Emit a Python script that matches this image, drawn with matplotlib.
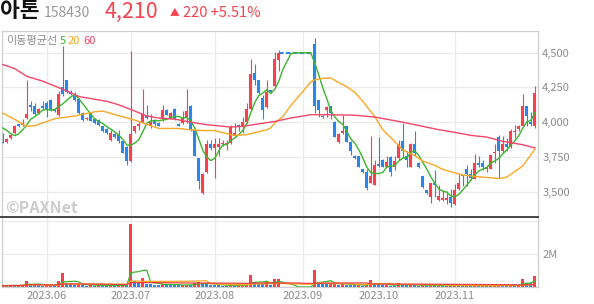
import numpy as np
import pandas as pd
import matplotlib
matplotlib.use('Agg')
from matplotlib import pyplot as plt

plt.rcParams['font.family'] = ['Noto Sans CJK KR', 'DejaVu Sans']

UP = '#f5424e'
DOWN = '#2a86e8'
MA5_C = '#3cb52f'
MA20_C = '#f9a825'
MA60_C = '#f2466a'
GRID = '#ebebeb'
FRAME = '#cfcfcf'
TXT = '#8c8c8c'

# daily candles, 2023-05-16 .. 2023-11-29 (trading days), days 70-77 trading halted
opens = [3860, 3855, 3885, 3920, 3985, 3980, 4030, 4125, 4120, 4065,
         4120, 4140, 4160, 4095, 4050, 4255, 4300, 4220, 4185, 4165,
         4065, 4020, 4065, 4025, 4015, 3970, 3950, 3875, 3915, 3905,
         3865, 3825, 3720, 3935, 3970, 4000, 4045, 3970, 4015, 3995,
         4020, 4090, 4030, 4095, 3990, 3995, 4030, 4120, 3945, 3740,
         3490, 3640, 3845, 3815, 3820, 3840, 3840, 3850, 3910, 3980,
         3965, 4000, 4095, 4355, 4300, 4175, 4110, 4230, 4260, 4445,
         4500, 4500, 4500, 4500, 4500, 4500, 4500, 4500,
         4560, 4160, 4045, 4090, 4115, 4000, 3855, 3920, 3970, 3860,
         3760, 3755, 3660, 3640, 3565, 3550, 3700, 3730, 3675, 3750,
         3680, 3740, 3865, 3760, 3680, 3840, 3710, 3610, 3510, 3465,
         3560, 3440, 3440, 3440, 3465, 3415, 3520, 3620, 3660, 3630,
         3590, 3705, 3705, 3660, 3660, 3775, 3895, 3790, 3840, 3825,
         3930, 3950, 3975, 4120, 4000, 3970]
highs = [3920, 3885, 3915, 3980, 3990, 4020, 4300, 4150, 4135, 4105,
         4150, 4150, 4170, 4100, 4225, 4550, 4305, 4230, 4215, 4175,
         4070, 4035, 4065, 4030, 4020, 3975, 3960, 3945, 3920, 3945,
         3870, 3830, 4510, 3975, 4010, 4240, 4125, 4060, 4020, 4000,
         4125, 4095, 4070, 4100, 3995, 4080, 4240, 4125, 3950, 3745,
         3635, 3875, 3875, 3885, 3885, 3875, 3875, 3980, 3995, 3985,
         4040, 4135, 4455, 4420, 4305, 4195, 4305, 4235, 4505, 4520,
         4500, 4500, 4500, 4500, 4500, 4500, 4500, 4500,
         4605, 4160, 4050, 4120, 4120, 4005, 3920, 4055, 3975, 3865,
         3765, 3760, 3665, 3660, 3900, 3730, 3895, 3735, 3755, 3755,
         3755, 3875, 3995, 3790, 3850, 3935, 3715, 3615, 3515, 3560,
         3655, 3550, 3510, 3505, 3520, 3555, 3630, 3620, 3695, 3660,
         3770, 3755, 3730, 3695, 3765, 3840, 3905, 3900, 3885, 3950,
         3980, 3980, 4205, 4120, 4075, 4260]
lows = [3850, 3850, 3880, 3915, 3965, 3970, 4025, 4080, 4055, 4060,
        4090, 4035, 4080, 4075, 4045, 4190, 4210, 4195, 4150, 4060,
        4005, 4015, 4005, 3990, 3975, 3930, 3915, 3865, 3885, 3850,
        3775, 3690, 3715, 3925, 3945, 3995, 4020, 3955, 3975, 3970,
        4010, 4050, 4025, 4015, 3970, 3985, 3995, 3940, 3755, 3520,
        3485, 3635, 3800, 3600, 3755, 3830, 3800, 3840, 3900, 3935,
        3920, 3995, 4085, 4270, 4205, 4020, 4100, 4210, 4245, 4365,
        4500, 4500, 4500, 4500, 4500, 4500, 4500, 4500,
        4065, 4040, 4030, 4035, 4020, 3890, 3850, 3915, 3855, 3765,
        3735, 3675, 3635, 3510, 3560, 3550, 3680, 3675, 3675, 3615,
        3655, 3730, 3740, 3680, 3680, 3755, 3670, 3530, 3485, 3420,
        3465, 3435, 3430, 3415, 3390, 3405, 3515, 3540, 3540, 3585,
        3590, 3680, 3655, 3645, 3660, 3705, 3600, 3785, 3790, 3815,
        3885, 3935, 3970, 3975, 3970, 3960]
closes = [3850, 3880, 3910, 3975, 3970, 3995, 4060, 4110, 4060, 4095,
          4105, 4090, 4085, 4080, 4205, 4200, 4220, 4205, 4160, 4065,
          4015, 4030, 4010, 3995, 3980, 3935, 3920, 3920, 3895, 3865,
          3780, 3720, 3915, 3970, 3985, 4060, 4030, 4000, 3985, 3975,
          4090, 4055, 4065, 4020, 3975, 4030, 4080, 3945, 3760, 3575,
          3630, 3840, 3815, 3840, 3840, 3850, 3850, 3965, 3925, 3965,
          4000, 4095, 4350, 4305, 4210, 4085, 4220, 4215, 4455, 4500,
          4500, 4500, 4500, 4500, 4500, 4500, 4500, 4500,
          4115, 4085, 4035, 4110, 4065, 3895, 3915, 3935, 3860, 3795,
          3740, 3680, 3640, 3525, 3610, 3695, 3685, 3680, 3715, 3645,
          3720, 3840, 3790, 3725, 3840, 3775, 3675, 3535, 3490, 3560,
          3545, 3470, 3455, 3455, 3420, 3515, 3560, 3610, 3630, 3600,
          3710, 3695, 3680, 3680, 3765, 3785, 3790, 3840, 3825, 3935,
          3940, 3970, 4120, 4045, 3990, 4210]
volumes = [90e3, 70e3, 110e3, 80e3, 100e3, 140e3, 360e3, 150e3, 120e3, 100e3,
           90e3, 110e3, 120e3, 80e3, 360e3, 830e3, 250e3, 180e3, 140e3, 160e3,
           120e3, 90e3, 110e3, 80e3, 100e3, 90e3, 80e3, 120e3, 90e3, 100e3,
           150e3, 130e3, 3820e3, 340e3, 220e3, 520e3, 180e3, 160e3, 140e3, 120e3,
           200e3, 150e3, 130e3, 110e3, 100e3, 120e3, 150e3, 140e3, 220e3, 320e3,
           200e3, 180e3, 140e3, 130e3, 100e3, 90e3, 80e3, 110e3, 90e3, 100e3,
           120e3, 150e3, 710e3, 300e3, 200e3, 170e3, 360e3, 150e3, 480e3, 480e3,
           0, 0, 0, 0, 0, 0, 0, 0,
           1010e3, 320e3, 180e3, 170e3, 260e3, 270e3, 150e3, 170e3, 140e3, 130e3,
           110e3, 120e3, 90e3, 100e3, 420e3, 180e3, 170e3, 100e3, 110e3, 90e3,
           80e3, 240e3, 150e3, 100e3, 120e3, 110e3, 90e3, 100e3, 80e3, 90e3,
           70e3, 80e3, 60e3, 70e3, 80e3, 90e3, 100e3, 80e3, 90e3, 70e3,
           100e3, 80e3, 90e3, 70e3, 90e3, 100e3, 120e3, 100e3, 90e3, 180e3,
           110e3, 130e3, 480e3, 260e3, 240e3, 650e3]
pre_closes = [3965, 4030, 4045, 3900]

# 20 and 60 day averages
ma20_idx = [0, 3, 6, 8, 10, 13, 18, 23, 25, 28, 33, 36, 39, 44, 47, 50, 53, 57, 58, 61,
            63, 66, 67, 68, 70, 72, 75, 77, 78, 80, 82, 84, 86, 88, 90, 93, 95, 98, 100,
            103, 105, 108, 110, 113, 115, 118, 120, 123, 124, 126, 128, 130, 131, 133]
ma20_val = [4065, 4020, 3970, 3975, 3995, 4025, 4045, 4075, 4080, 4055, 4015, 3985, 3955,
            3955, 3945, 3940, 3940, 3910, 3905, 3910, 3925, 3945, 3960, 3995, 4040, 4120,
            4220, 4290, 4305, 4315, 4318, 4285, 4255, 4215, 4150, 4040, 3945, 3860, 3800,
            3760, 3720, 3690, 3660, 3635, 3620, 3610, 3605, 3598, 3594, 3605, 3645, 3685,
            3725, 3805]
ma60_idx = [0, 3, 6, 10, 13, 16, 19, 23, 26, 29, 33, 36, 39, 43, 47, 51, 57, 60, 64, 68,
            72, 77, 81, 85, 88, 93, 100, 105, 109, 113, 117, 121, 125, 130, 133]
ma60_val = [4415, 4385, 4330, 4295, 4260, 4225, 4185, 4165, 4150, 4125, 4080, 4045, 4030,
            4022, 4000, 3982, 3965, 3970, 3988, 4005, 4030, 4054, 4054, 4052, 4050, 4037,
            4000, 3970, 3946, 3927, 3905, 3893, 3862, 3838, 3815]

month_idx = [11, 32, 53, 75, 94, 113]
month_labels = ['2023.06', '2023.07', '2023.08', '2023.09', '2023.10', '2023.11']
price_ticks = [3500, 3750, 4000, 4250, 4500]

W, H = 594, 304
fig = plt.figure(figsize=(W / 100, H / 100), dpi=100)


def fx(px):
    return px / W


def fy(py):
    return 1 - py / H


ax = fig.add_axes([fx(2), fy(217), fx(536), fy(31) - fy(217)])
axv = fig.add_axes([fx(2), fy(287), fx(536), fy(217) - fy(287)], sharex=ax)

o = np.array(opens, float)
h = np.array(highs, float)
l = np.array(lows, float)
c = np.array(closes, float)
v = np.array(volumes, float)
idx = np.arange(len(c))
halted = v == 0

# candles
live = ~halted
up = (c >= o) & live
dn = (c < o) & live
for mask, col in ((up, UP), (dn, DOWN)):
    ax.vlines(idx[mask], l[mask], h[mask], color=col, lw=0.8, zorder=3)
    body = np.maximum(np.abs(c[mask] - o[mask]), 6)
    ax.bar(idx[mask], body, bottom=np.minimum(o[mask], c[mask]), width=0.72,
           color=col, lw=0, zorder=3)

# halt period shown as dashed line
hi = idx[halted]
ax.plot([hi[0] - 1, hi[-1]], [c[hi[0] - 1], c[hi[-1]]], color=DOWN, lw=1.5,
        ls=(0, (2.2, 1.1)), zorder=3)

ma5 = pd.Series(pre_closes + closes).rolling(5).mean().to_numpy()[len(pre_closes):]
ax.plot(idx, ma5, color=MA5_C, lw=1.0, zorder=4)
ax.plot(ma20_idx, ma20_val, color=MA20_C, lw=1.0, zorder=4)
ax.plot(ma60_idx, ma60_val, color=MA60_C, lw=1.0, zorder=4)

ax.set_xlim(-0.2, 133.8)
ax.set_ylim(3318, 4656)
ax.set_yticks(price_ticks)
ax.set_yticklabels([f'{t:,}' for t in price_ticks])
ax.yaxis.tick_right()
ax.set_xticks(month_idx)
ax.tick_params(axis='x', length=0, labelbottom=False)
ax.tick_params(axis='y', length=0, pad=3, labelsize=8, labelcolor=TXT)
ax.grid(True, color=GRID, lw=0.9, zorder=0)
ax.set_axisbelow(True)
for s in ('top', 'left', 'right'):
    ax.spines[s].set_color(FRAME)
    ax.spines[s].set_linewidth(0.9)
ax.spines['bottom'].set_visible(False)

# dark separator across the full width
fig.add_artist(plt.Line2D([0, fx(538)], [fy(217), fy(217)], color='#444444', lw=1.4))

# volume
prev = np.concatenate([[v[0]], v[:-1]])
vcol = np.where(v >= prev, UP, DOWN)
axv.bar(idx[live], v[live], width=0.72, color=vcol[live], lw=0, zorder=3)
vs = pd.Series(v)
axv.plot(idx, vs.rolling(5, min_periods=1).mean(), color=MA5_C, lw=0.9, zorder=4)
axv.plot(idx, vs.rolling(20, min_periods=1).mean(), color=MA20_C, lw=0.9, zorder=4)
axv.plot(idx, vs.rolling(60, min_periods=1).mean(), color='#ef3b3b', lw=0.9, zorder=4)
axv.set_ylim(0, 4.25e6)
axv.set_yticks([2e6, 4e6])
axv.set_yticklabels(['2M', ''])
axv.yaxis.tick_right()
axv.set_xticks(month_idx)
axv.set_xticklabels(month_labels)
axv.tick_params(axis='x', length=0, pad=3, labelsize=8, labelcolor=TXT)
axv.tick_params(axis='y', length=0, pad=3, labelsize=8, labelcolor=TXT)
axv.grid(True, color=GRID, lw=0.9, zorder=0)
axv.set_axisbelow(True)
axv.spines['top'].set_visible(False)
for s in ('left', 'right', 'bottom'):
    axv.spines[s].set_color(FRAME)
    axv.spines[s].set_linewidth(0.9)

# header
fig.text(fx(0), fy(17), '아톤', fontsize=15.5, fontweight='bold', color='#111111', va='baseline')
fig.text(fx(44), fy(17), '158430', fontsize=10, color='#999999', va='baseline')
fig.text(fx(105), fy(17.5), '4,210', fontsize=15.5, color=UP, va='baseline')
fig.text(fx(170), fy(15.5), '▲', fontsize=7, color=UP, va='baseline')
fig.text(fx(183), fy(17), '220 +5.51%', fontsize=10.5, color=UP, va='baseline')

# legend
fig.text(fx(6), fy(41), '이동평균선', fontsize=8, color=TXT, va='center')
fig.text(fx(59.5), fy(41), '5', fontsize=8, color=MA5_C, va='center')
fig.text(fx(68), fy(41), '20', fontsize=8, color=MA20_C, va='center')
fig.text(fx(83), fy(41), '60', fontsize=8, color=MA60_C, va='center')

# watermark
fig.text(fx(5), fy(213), '©PAXNet', fontsize=11.5, fontweight='bold', color='#cccccc', va='baseline')

fig.savefig('out.png', dpi=100)
